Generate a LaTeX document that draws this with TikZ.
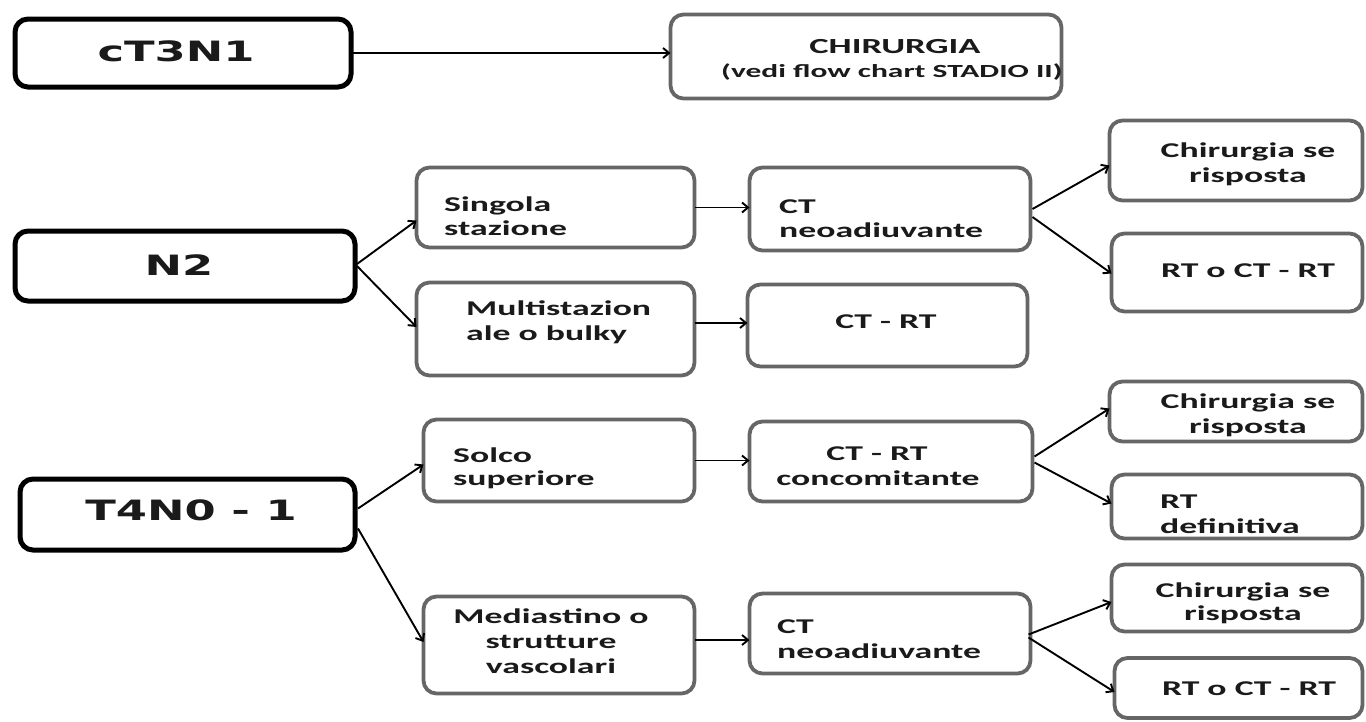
\documentclass[tikz,border=0pt]{standalone}
\usepackage{fontspec}
\newfontfamily\bigfont{DejaVu Sans}[FakeStretch=1.6]
\newfontfamily\smfont{Carlito}[FakeStretch=1.7]
\usetikzlibrary{arrows.meta,calc}
\definecolor{boxgray}{HTML}{666666}
\definecolor{txt}{HTML}{1A1A1A}
\begin{document}
\begin{tikzpicture}[x=1pt,y=-1pt,
  bbox/.style={draw=black, line width=5pt, rounded corners=13pt, fill=white, inner sep=0pt, outer sep=0pt},
  gbox/.style={draw=boxgray, line width=3.8pt, rounded corners=13pt, fill=white, inner sep=0pt, outer sep=0pt},
  bigtxt/.style={inner sep=0pt, text=txt, font=\bigfont\bfseries\fontsize{28}{30}\selectfont},
  smtxt/.style={inner sep=0pt, text=txt, font=\smfont\bfseries\fontsize{21}{24}\selectfont},
  arr/.style={draw=black, line width=1.9pt, -{Straight Barb[length=6pt,width=10pt,line width=1.9pt]}}
]
\useasboundingbox (0,0) rectangle (1366,721);
\fill[white] (0,0) rectangle (1366,721);

% left boxes
\node[bbox, minimum width=336, minimum height=68] (ct) at (183,53) {};
\node[bbox, minimum width=340, minimum height=70] (n2) at (185,266) {};
\node[bbox, minimum width=335, minimum height=71] (t4) at (187.5,514.5) {};

% grey boxes
\node[gbox, minimum width=391, minimum height=84] (chir) at (866,56.5) {};
\node[gbox, minimum width=278, minimum height=80] (sing) at (555.5,207.5) {};
\node[gbox, minimum width=278, minimum height=93] (multi) at (555.5,329) {};
\node[gbox, minimum width=281, minimum height=83] (neoA) at (890,209) {};
\node[gbox, minimum width=280, minimum height=82] (ctrt) at (887.5,325.5) {};
\node[gbox, minimum width=253, minimum height=80] (chirA) at (1236,160.5) {};
\node[gbox, minimum width=251, minimum height=78] (rtA) at (1237,272.5) {};
\node[gbox, minimum width=271, minimum height=82] (solco) at (559,460.5) {};
\node[gbox, minimum width=271, minimum height=97] (medi) at (559,645) {};
\node[gbox, minimum width=283, minimum height=80] (conc) at (891,461.5) {};
\node[gbox, minimum width=253, minimum height=60] (chirB) at (1236,411.5) {};
\node[gbox, minimum width=251, minimum height=64] (rtdef) at (1237,506.5) {};
\node[gbox, minimum width=281, minimum height=80] (neoB) at (890,633.5) {};
\node[gbox, minimum width=251, minimum height=67] (chirC) at (1237,598) {};
\node[gbox, minimum width=248, minimum height=60] (rtC) at (1238.5,688) {};

% texts
\node[bigtxt, anchor=base] (lct) at (176,61) {cT3N1};
\node[bigtxt, anchor=base] (ln2) at (179,275) {N2};
\node[bigtxt, anchor=base] (lt4) at (191,520) {T4N0 - 1};

\node[smtxt, anchor=base, font=\smfont\bfseries\fontsize{21.5}{24}\selectfont] (lchir1) at (895,53) {CHIRURGIA};
\node[smtxt, anchor=base west, font=\smfont\bfseries\fontsize{18.5}{20}\selectfont] (lchir2) at (721,77) {(vedi flow chart STADIO II)};

\node[smtxt, anchor=base west] (lsing1) at (444,211) {Singola};
\node[smtxt, anchor=base west] (lsing2) at (444,235) {stazione};
\node[smtxt, anchor=base west] (lmul1) at (466,315) {Multistazion};
\node[smtxt, anchor=base west] (lmul2) at (466,340) {ale o bulky};
\node[smtxt, anchor=base west] (lneoA1) at (779,213) {CT};
\node[smtxt, anchor=base west] (lneoA2) at (779,237) {neoadiuvante};
\node[smtxt, anchor=base] (lctrt) at (886,328) {CT - RT};
\node[smtxt, anchor=base] (lchirA1) at (1248,157) {Chirurgia se};
\node[smtxt, anchor=base] (lchirA2) at (1248,182) {risposta};
\node[smtxt, anchor=base] (lrtA) at (1248,277) {RT o CT - RT};

\node[smtxt, anchor=base west] (lsol1) at (453,462) {Solco};
\node[smtxt, anchor=base west] (lsol2) at (453,485) {superiore};
\node[smtxt, anchor=base] (lmed1) at (551,623) {Mediastino o};
\node[smtxt, anchor=base] (lmed2) at (551,648) {strutture};
\node[smtxt, anchor=base] (lmed3) at (551,673) {vascolari};
\node[smtxt, anchor=base] (lconc1) at (877,460) {CT - RT};
\node[smtxt, anchor=base] (lconc2) at (878,485) {concomitante};
\node[smtxt, anchor=base] (lchirB1) at (1248,408) {Chirurgia se};
\node[smtxt, anchor=base] (lchirB2) at (1248,433) {risposta};
\node[smtxt, anchor=base west] (lrtdef1) at (1160,508) {RT};
\node[smtxt, anchor=base west] (lrtdef2) at (1160,533) {definitiva};
\node[smtxt, anchor=base west] (lneoB1) at (777,633) {CT};
\node[smtxt, anchor=base west] (lneoB2) at (777,658) {neoadiuvante};
\node[smtxt, anchor=base] (lchirC1) at (1243,597) {Chirurgia se};
\node[smtxt, anchor=base] (lchirC2) at (1243,620) {risposta};
\node[smtxt, anchor=base] (lrtC) at (1249,695) {RT o CT - RT};

% connectors
\draw[arr] (ct.east) -- (ct.east -| chir.west);
\draw[arr] ($(n2.east)+(2,-2)$) -- ($(sing.west)+(0,13)$);
\draw[arr] ($(n2.east)+(2,0)$) -- ($(multi.west)+(0,-2)$);
\draw[arr] (sing.east) -- (sing.east -| neoA.west);
\draw[arr] ($(multi.east)+(0,-6)$) -- ($(multi.east -| ctrt.west)+(0,-6)$);
\draw[arr] ($(neoA.east)+(2,0)$) -- ($(chirA.west)+(0,5)$);
\draw[arr] ($(neoA.east)+(2,8)$) -- ($(rtA.west)+(0,1)$);

\draw[arr] ($(t4.east)+(3,-6)$) -- ($(solco.west)+(0,4)$);
\draw[arr] ($(t4.east)+(3,14)$) -- ($(medi.west)+(0,-3)$);
\draw[arr] (solco.east) -- (solco.east -| conc.west);
\draw[arr] ($(medi.east)+(0,-5)$) -- ($(medi.east -| neoB.west)+(0,-5)$);
\draw[arr] ($(conc.east)+(2,-5)$) -- ($(chirB.west)+(0,-3)$);
\draw[arr] ($(conc.east)+(2,1)$) -- ($(rtdef.west)+(0,-3)$);
\draw[arr] ($(neoB.east)+(-2,1)$) -- ($(chirC.west)+(0,4)$);
\draw[arr] ($(neoB.east)+(-2,4)$) -- ($(rtC.west)+(0,4)$);
\end{tikzpicture}
\end{document}
